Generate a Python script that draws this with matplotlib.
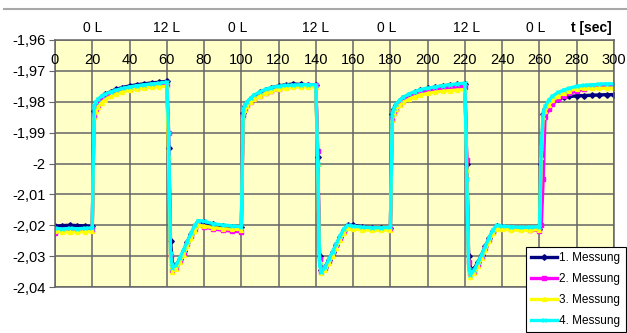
import matplotlib
matplotlib.use("Agg")
import matplotlib.pyplot as plt
from matplotlib.lines import Line2D
from matplotlib.ticker import FuncFormatter, MultipleLocator

matplotlib.rcParams.update({"font.family": "Liberation Sans", "font.size": 10,
                            "axes.unicode_minus": False})

# time points [sec]
t = [0, 4, 8, 12, 16, 20,
     21, 22, 23, 25, 27, 30, 33, 36, 40, 44, 48, 52, 56, 60,
     61, 62, 63, 65, 67, 69, 71, 73, 75, 77, 80, 85, 90, 95, 100,
     101, 102, 103, 105, 107, 110, 113, 116, 120, 124, 128, 132, 136, 140,
     141, 142, 143, 145, 147, 149, 151, 153, 155, 157, 160, 165, 170, 175, 180,
     181, 182, 183, 185, 187, 190, 193, 196, 200, 204, 208, 212, 216, 220,
     221, 222, 223, 225, 227, 229, 231, 233, 235, 237, 240, 245, 250, 255, 260,
     261, 262, 263, 265, 267, 270, 273, 276, 280, 284, 288, 292, 296, 300]

m1 = [-2.0203, -2.0201, -2.0200, -2.0201, -2.0202, -2.0203,
      -1.9830, -1.9812, -1.9800, -1.9785, -1.9776, -1.9767, -1.9760, -1.9754, -1.9749, -1.9745, -1.9742, -1.9739, -1.9737, -1.9734,
      -1.9950, -2.0250, -2.0325, -2.0330, -2.0310, -2.0282, -2.0255, -2.0228, -2.0205, -2.0190, -2.0190, -2.0197, -2.0202, -2.0205, -2.0207,
      -1.9835, -1.9815, -1.9803, -1.9790, -1.9780, -1.9770, -1.9762, -1.9755, -1.9749, -1.9745, -1.9743, -1.9744, -1.9745, -1.9746,
      -1.9980, -2.0300, -2.0345, -2.0335, -2.0312, -2.0288, -2.0263, -2.0238, -2.0215, -2.0200, -2.0200, -2.0205, -2.0208, -2.0210, -2.0210,
      -1.9840, -1.9822, -1.9810, -1.9797, -1.9787, -1.9777, -1.9769, -1.9763, -1.9757, -1.9753, -1.9749, -1.9746, -1.9744, -1.9742,
      -2.0000, -2.0300, -2.0340, -2.0340, -2.0320, -2.0295, -2.0268, -2.0242, -2.0218, -2.0203, -2.0205, -2.0208, -2.0212, -2.0213, -2.0212,
      -2.0000, -1.9840, -1.9825, -1.9808, -1.9798, -1.9790, -1.9786, -1.9783, -1.9781, -1.9780, -1.9779, -1.9778, -1.9777, -1.9777]

m2 = [-2.0225, -2.0215, -2.0214, -2.0214, -2.0215, -2.0214,
      -1.9845, -1.9822, -1.9810, -1.9795, -1.9785, -1.9776, -1.9769, -1.9763, -1.9758, -1.9754, -1.9751, -1.9748, -1.9746, -1.9745,
      -1.9900, -2.0300, -2.0345, -2.0338, -2.0315, -2.0290, -2.0262, -2.0236, -2.0212, -2.0197, -2.0205, -2.0212, -2.0216, -2.0219, -2.0221,
      -1.9845, -1.9825, -1.9812, -1.9800, -1.9790, -1.9780, -1.9772, -1.9766, -1.9760, -1.9753, -1.9750, -1.9748, -1.9747, -1.9746,
      -1.9960, -2.0310, -2.0350, -2.0338, -2.0315, -2.0290, -2.0265, -2.0240, -2.0218, -2.0203, -2.0205, -2.0210, -2.0212, -2.0213, -2.0213,
      -1.9860, -1.9835, -1.9822, -1.9808, -1.9797, -1.9786, -1.9778, -1.9772, -1.9766, -1.9762, -1.9758, -1.9755, -1.9753, -1.9751,
      -1.9990, -2.0320, -2.0355, -2.0350, -2.0328, -2.0302, -2.0275, -2.0248, -2.0222, -2.0207, -2.0208, -2.0211, -2.0213, -2.0214, -2.0218,
      -2.0200, -2.0050, -1.9850, -1.9825, -1.9808, -1.9792, -1.9780, -1.9772, -1.9766, -1.9758, -1.9752, -1.9749, -1.9747, -1.9746]

m3 = [-2.0220, -2.0221, -2.0222, -2.0222, -2.0221, -2.0220,
      -1.9850, -1.9830, -1.9818, -1.9803, -1.9793, -1.9783, -1.9775, -1.9769, -1.9762, -1.9758, -1.9755, -1.9753, -1.9751, -1.9750,
      -1.9980, -2.0320, -2.0350, -2.0342, -2.0320, -2.0295, -2.0268, -2.0242, -2.0218, -2.0200, -2.0203, -2.0208, -2.0211, -2.0213, -2.0214,
      -1.9850, -1.9828, -1.9815, -1.9802, -1.9792, -1.9782, -1.9773, -1.9766, -1.9760, -1.9756, -1.9753, -1.9752, -1.9752, -1.9752,
      -2.0000, -2.0320, -2.0355, -2.0345, -2.0322, -2.0298, -2.0272, -2.0247, -2.0224, -2.0210, -2.0212, -2.0215, -2.0216, -2.0216, -2.0215,
      -1.9860, -1.9838, -1.9825, -1.9812, -1.9802, -1.9792, -1.9784, -1.9778, -1.9773, -1.9769, -1.9766, -1.9764, -1.9762, -1.9761,
      -2.0020, -2.0340, -2.0367, -2.0355, -2.0332, -2.0306, -2.0279, -2.0252, -2.0226, -2.0211, -2.0213, -2.0215, -2.0216, -2.0216, -2.0214,
      -1.9980, -1.9850, -1.9830, -1.9810, -1.9796, -1.9782, -1.9772, -1.9764, -1.9758, -1.9757, -1.9756, -1.9756, -1.9756, -1.9756]

m4 = [-2.0210, -2.0212, -2.0210, -2.0211, -2.0210, -2.0208,
      -1.9815, -1.9800, -1.9792, -1.9782, -1.9775, -1.9768, -1.9762, -1.9757, -1.9752, -1.9748, -1.9745, -1.9742, -1.9740, -1.9736,
      -1.9900, -2.0290, -2.0338, -2.0330, -2.0305, -2.0280, -2.0253, -2.0226, -2.0200, -2.0185, -2.0187, -2.0195, -2.0199, -2.0202, -2.0205,
      -1.9825, -1.9810, -1.9800, -1.9788, -1.9778, -1.9768, -1.9760, -1.9754, -1.9750, -1.9747, -1.9746, -1.9745, -1.9745, -1.9745,
      -2.0000, -2.0330, -2.0352, -2.0335, -2.0310, -2.0285, -2.0260, -2.0235, -2.0212, -2.0200, -2.0203, -2.0206, -2.0208, -2.0208, -2.0207,
      -1.9840, -1.9820, -1.9808, -1.9795, -1.9785, -1.9775, -1.9767, -1.9761, -1.9756, -1.9752, -1.9748, -1.9745, -1.9742, -1.9740,
      -2.0050, -2.0340, -2.0360, -2.0345, -2.0320, -2.0295, -2.0268, -2.0240, -2.0215, -2.0200, -2.0203, -2.0205, -2.0207, -2.0206, -2.0205,
      -1.9950, -1.9835, -1.9815, -1.9795, -1.9782, -1.9770, -1.9762, -1.9756, -1.9750, -1.9747, -1.9745, -1.9743, -1.9742, -1.9742]

labels = ["1. Messung", "2. Messung", "3. Messung", "4. Messung"]
colors = ["#000080", "#ff00ff", "#ffff00", "#00ffff"]
markers = ["D", "s", "^", "x"]

# valve state labels above the plot
state_pos = [20, 60, 98, 140, 178, 221, 258]
state_txt = ["0 L", "12 L", "0 L", "12 L", "0 L", "12 L", "0 L"]

fig = plt.figure(figsize=(6.27, 3.33), dpi=100)
ax = fig.add_axes([0.0877, 0.138, 0.8915, 0.742])
ax.set_facecolor("#ffffc8")

for y, lab, c, mk in zip([m1, m2, m3, m4], labels, colors, markers):
    ax.plot(t, y, color=c, lw=2.4, marker=mk, ms=2.8, mew=1.0, label=lab)

ax.set_xlim(0, 300)
ax.set_ylim(-2.04, -1.96)
ax.xaxis.set_major_locator(MultipleLocator(20))
ax.yaxis.set_major_locator(MultipleLocator(0.01))
ax.grid(True, color="#656565", lw=1.1)
ax.set_axisbelow(True)
for s in ax.spines.values():
    s.set_color("#656565")
    s.set_linewidth(1.1)

ax.yaxis.set_major_formatter(FuncFormatter(lambda v, p: ("%g" % round(v, 3)).replace(".", ",")))
ax.tick_params(axis="y", length=4, color="#656565", labelsize=10.5, pad=3)
ax.tick_params(axis="x", bottom=False, labelbottom=False)

# x labels sit inside the plot near the top
for xv in range(0, 301, 20):
    ax.text(xv, 0.918, str(xv), transform=ax.get_xaxis_transform(),
            ha="center", va="center", fontsize=10.5)

for xv, s in zip(state_pos, state_txt):
    ax.text(xv, 1.05, s, transform=ax.get_xaxis_transform(),
            ha="center", va="center", fontsize=10)
ax.text(288, 1.05, "t [sec]", transform=ax.get_xaxis_transform(),
        ha="center", va="center", fontsize=10, fontweight="bold")

# gray rule across the top
fig.add_artist(Line2D([0.006, 1.0], [0.973, 0.973], color="#a8a8a8", lw=1.5))

leg = ax.legend(loc="lower right", bbox_to_anchor=(1.021, -0.183), fontsize=8.5,
                frameon=True, fancybox=False, edgecolor="black", framealpha=1,
                handlelength=2.2, handletextpad=0.2, borderpad=0.45,
                labelspacing=0.75, borderaxespad=0)
leg.get_frame().set_linewidth(0.8)

fig.savefig("out.png", dpi=100)
